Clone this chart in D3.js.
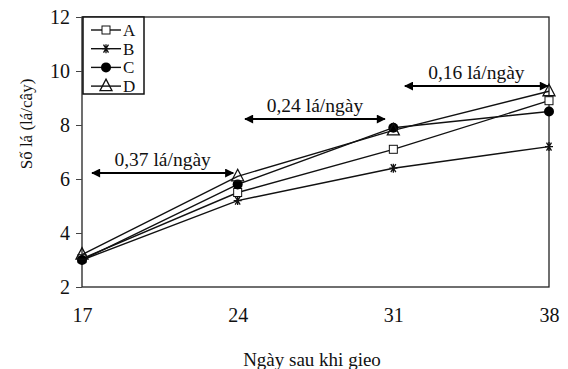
<!DOCTYPE html>
<html>
<head>
<meta charset="utf-8">
<script src="https://cdn.jsdelivr.net/npm/d3@7"></script>
<style>
  body { margin: 0; background: #fff; }
  svg, svg text { font-family: "Liberation Serif", "Times New Roman", Times, "DejaVu Serif", serif !important; fill: #111; }
</style>
</head>
<body>
<div class="chart"></div>
<script>
const days = [17, 24, 31, 38];
const yTicks = [2, 4, 6, 8, 10, 12];
const seriesA = [3.05, 5.5, 7.1, 8.9];
const seriesB = [3.0, 5.2, 6.4, 7.2];
const seriesC = [3.0, 5.8, 7.9, 8.5];
const seriesD = [3.2, 6.1, 7.8, 9.25];
const rates = [
  { label: "0,37 lá/ngày", from: 17.45, to: 23.8, y: 6.22 },
  { label: "0,24 lá/ngày", from: 24.33, to: 30.62, y: 8.22 },
  { label: "0,16 lá/ngày", from: 31.52, to: 37.95, y: 9.44 }
];

const series = [
  { name: "A", values: seriesA, symbol: "square" },
  { name: "B", values: seriesB, symbol: "star" },
  { name: "C", values: seriesC, symbol: "circle" },
  { name: "D", values: seriesD, symbol: "triangle" }
];

const font = "'Liberation Serif', 'Times New Roman', serif";
const w = 568;
const h = 369;
const margin = { top: 17, right: 19, bottom: 82, left: 82 };
const graphWidth = w - margin.left - margin.right;
const graphHeight = h - margin.top - margin.bottom;

const svg = d3.select(".chart").append("svg")
  .attr("width", w).attr("height", h)
  .attr("font-family", font);

// arrow head
svg.append("defs").append("marker")
  .attr("id", "head")
  .attr("viewBox", "0 0 10 10")
  .attr("refX", 9).attr("refY", 5)
  .attr("markerWidth", 11).attr("markerHeight", 9)
  .attr("markerUnits", "userSpaceOnUse")
  .attr("orient", "auto-start-reverse")
  .append("path").attr("d", "M0,0L10,5L0,10Z").attr("fill", "#000");

const x = d3.scaleLinear().domain([17, 38]).range([0, graphWidth]);
const y = d3.scaleLinear().domain([2, 12]).range([graphHeight, 0]);

const graph = svg.append("g").attr("transform", `translate(${margin.left}, ${margin.top})`);

// frame
graph.append("rect")
  .attr("width", graphWidth).attr("height", graphHeight)
  .attr("fill", "none").attr("stroke", "#222").attr("stroke-width", 1.3);

// y axis
const yAxisGroup = graph.append("g")
  .call(d3.axisLeft(y).tickValues(yTicks).tickSize(6).tickPadding(6))
  .attr("font-family", font);
yAxisGroup.select(".domain").remove();
yAxisGroup.selectAll("line").attr("stroke", "#444");
yAxisGroup.selectAll("text").attr("font-size", 20);

// x axis
const xAxisGroup = graph.append("g")
  .attr("transform", `translate(0, ${graphHeight})`)
  .call(d3.axisBottom(x).tickValues(days).tickSize(0).tickPadding(21))
  .attr("font-family", font);
xAxisGroup.select(".domain").remove();
xAxisGroup.selectAll("text").attr("font-size", 20);

// axis titles
svg.append("text")
  .attr("x", 312).attr("y", 366)
  .attr("text-anchor", "middle").attr("font-size", 19)
  .text("Ngày sau khi gieo");
svg.append("text")
  .attr("transform", "translate(32, 124) rotate(-90)")
  .attr("text-anchor", "middle").attr("font-size", 17)
  .text("Số lá (lá/cây)");

// lines
const line = d3.line().x((d, i) => x(days[i])).y(d => y(d));
graph.selectAll(".series-line")
  .data(series)
  .enter().append("path")
  .attr("class", "series-line")
  .attr("d", d => line(d.values))
  .attr("fill", "none").attr("stroke", "#111").attr("stroke-width", 1.4);

function drawSymbol(g, symbol) {
  if (symbol === "square") {
    g.append("rect").attr("x", -4).attr("y", -4).attr("width", 8).attr("height", 8)
      .attr("fill", "#fff").attr("stroke", "#111").attr("stroke-width", 1);
  } else if (symbol === "star") {
    g.append("path").attr("d", "M-4,0H4M-2.5,-4L2.5,4M2.5,-4L-2.5,4M0,-4.5V4.5")
      .attr("stroke", "#111").attr("stroke-width", 1.3);
  } else if (symbol === "circle") {
    g.append("circle").attr("r", 5).attr("fill", "#000");
  } else {
    g.append("path").attr("d", "M0,-7L6,4.5H-6Z")
      .attr("fill", "none").attr("stroke", "#111").attr("stroke-width", 1.3);
  }
}

series.forEach(s => {
  s.values.forEach((v, i) => {
    const g = graph.append("g").attr("transform", `translate(${x(days[i])}, ${y(v)})`);
    drawSymbol(g, s.symbol);
  });
});

// rate annotations
rates.forEach(r => {
  graph.append("line")
    .attr("x1", x(r.from)).attr("x2", x(r.to))
    .attr("y1", y(r.y)).attr("y2", y(r.y))
    .attr("stroke", "#000").attr("stroke-width", 2)
    .attr("marker-start", "url(#head)").attr("marker-end", "url(#head)");
  graph.append("text")
    .attr("x", (x(r.from) + x(r.to)) / 2).attr("y", y(r.y) - 7)
    .attr("text-anchor", "middle").attr("font-size", 19.5)
    .text(r.label);
});

// legend
const legend = graph.append("g").attr("transform", "translate(1, 0)");
legend.append("rect")
  .attr("width", 61).attr("height", 77)
  .attr("fill", "#fff").attr("stroke", "#111").attr("stroke-width", 1.5);
series.forEach((s, i) => {
  const row = legend.append("g").attr("transform", `translate(0, ${13 + i * 18.7})`);
  row.append("line").attr("x1", 8).attr("x2", 38).attr("stroke", "#111").attr("stroke-width", 1.4);
  const sym = row.append("g").attr("transform", "translate(23, 0)");
  drawSymbol(sym, s.symbol);
  row.append("text").attr("x", 40).attr("y", 6).attr("font-size", 17).text(s.name);
});
</script>
</body>
</html>
